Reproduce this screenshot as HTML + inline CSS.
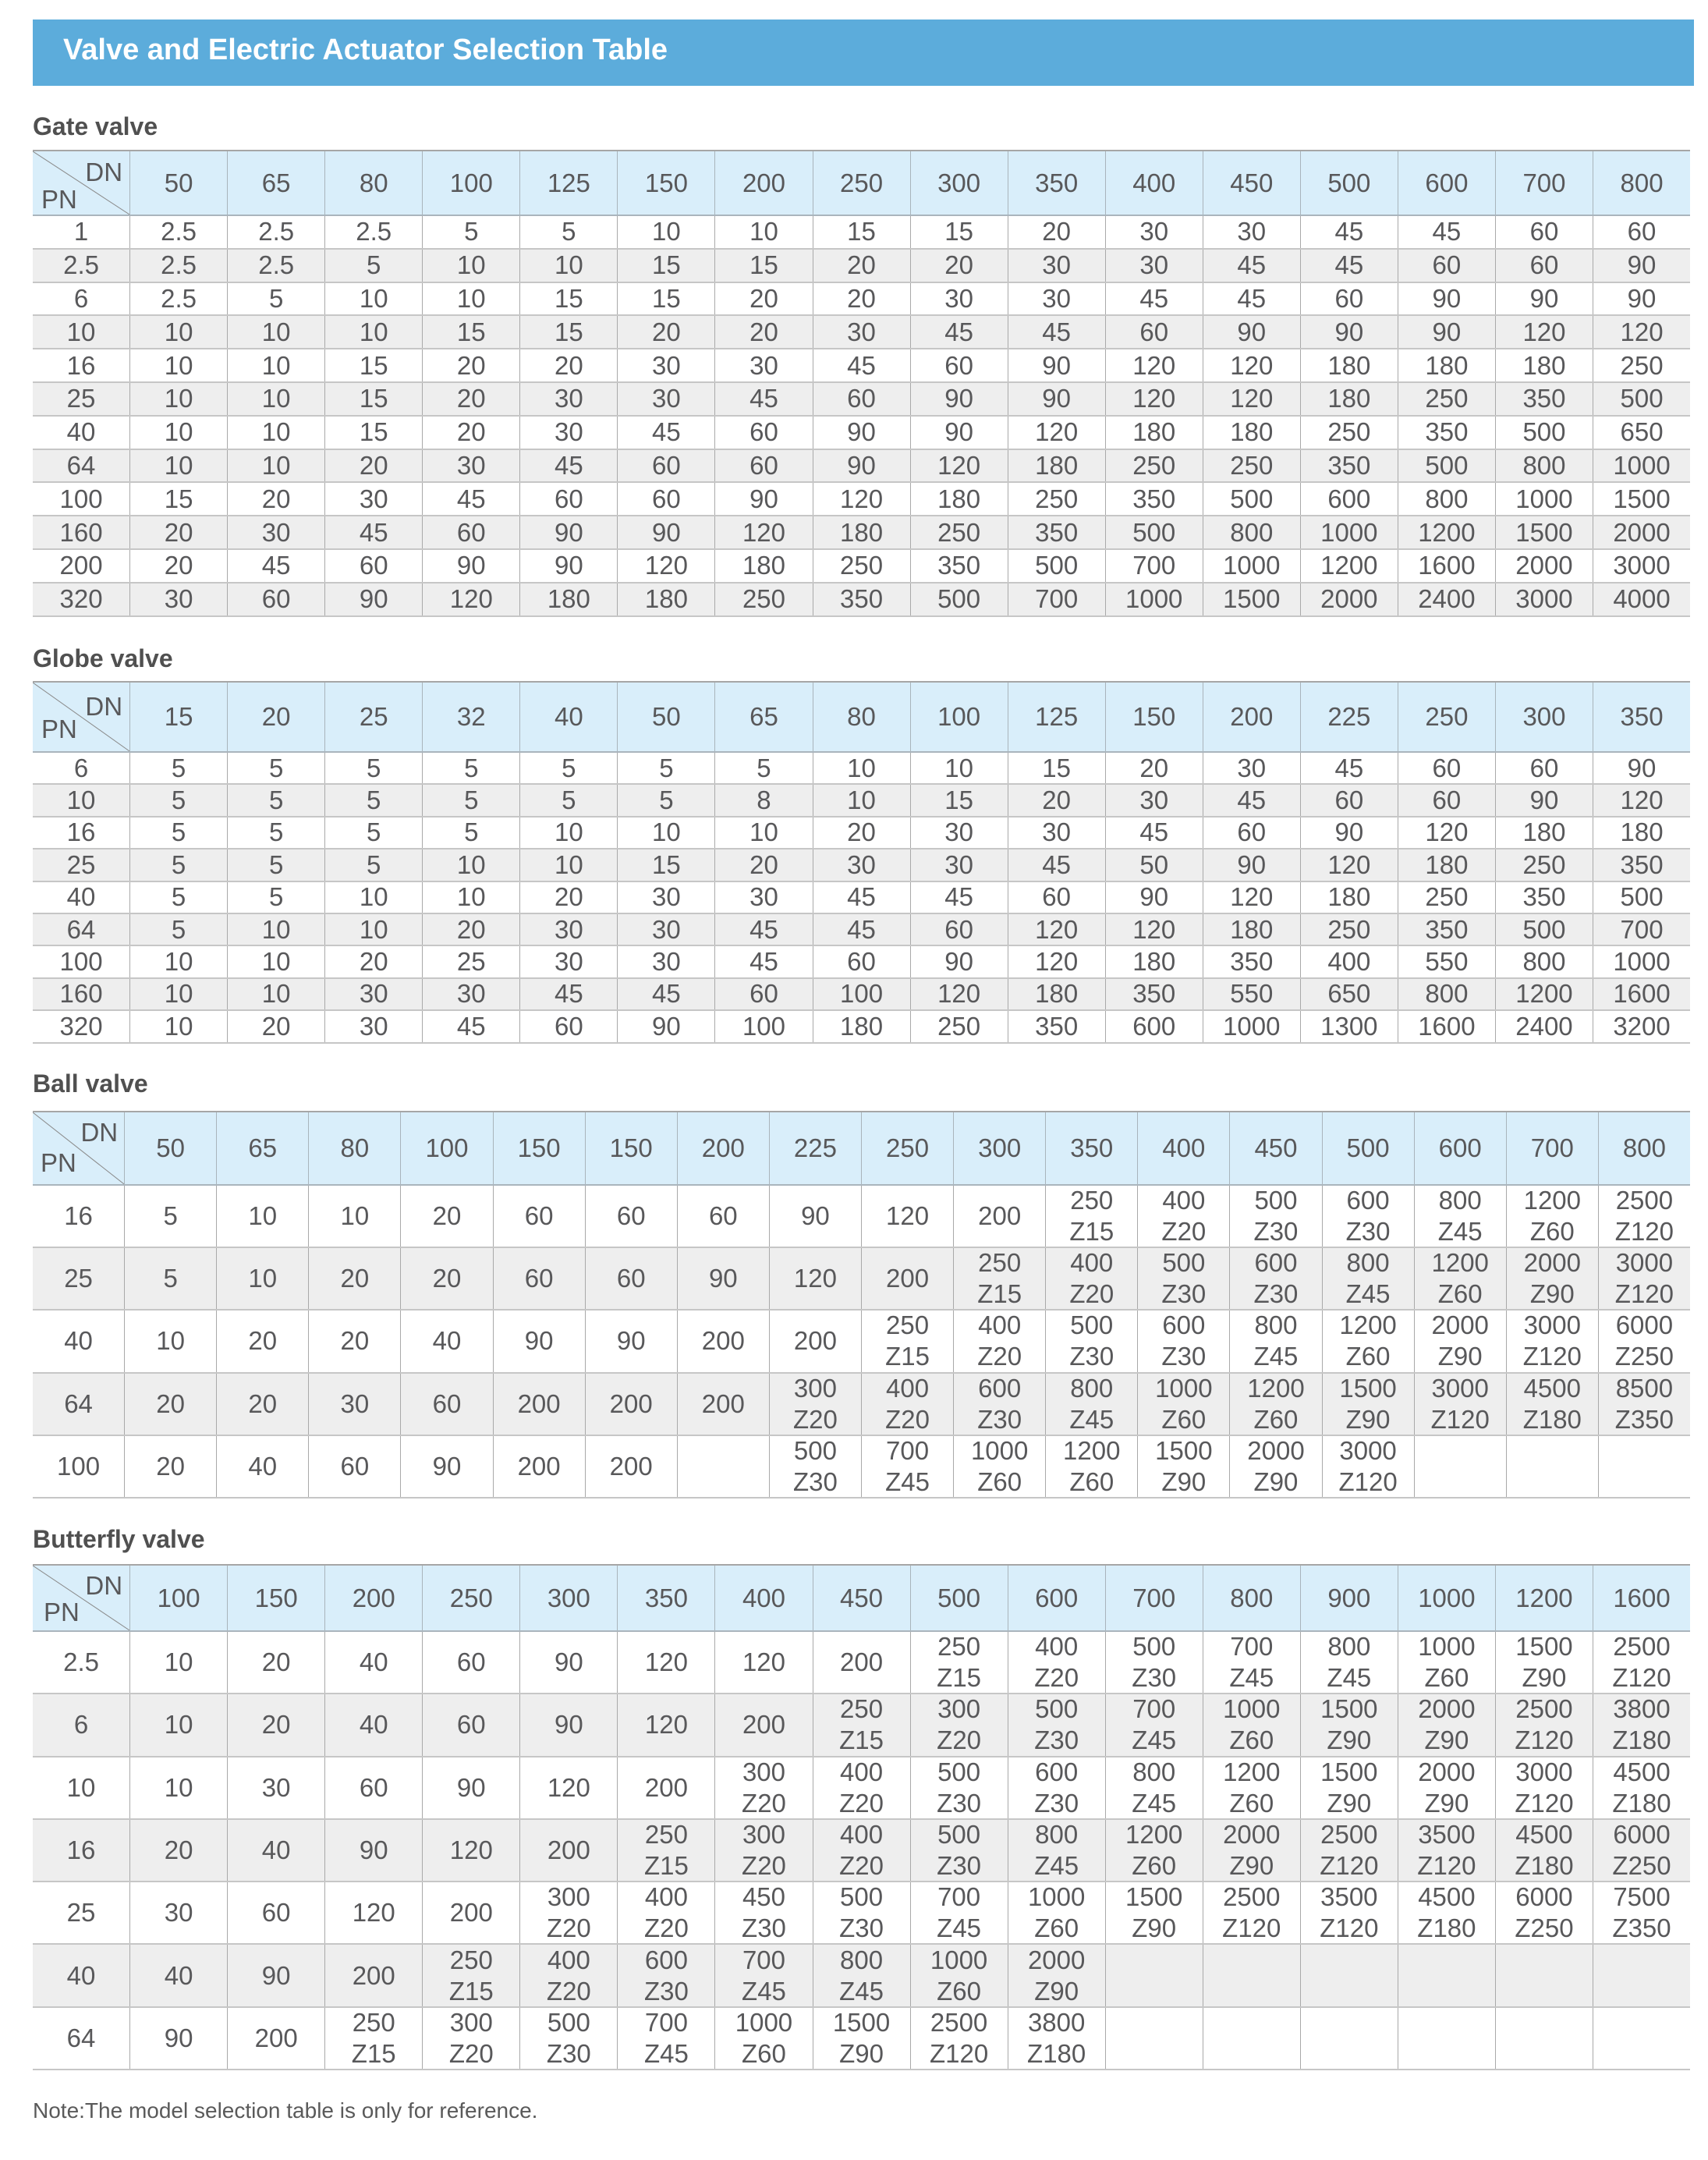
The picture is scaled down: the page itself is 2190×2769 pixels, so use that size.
<!DOCTYPE html>
<html><head><meta charset="utf-8">
<style>
html,body{margin:0;padding:0}
body{background:#fff;width:2190px;height:2769px;position:relative;overflow:hidden;font-family:"Liberation Sans",Arial,sans-serif;color:#58585a}
.ban{position:absolute;left:42px;top:25px;width:2130px;height:85px;background:#5cacdb}
.ttl{position:absolute;left:81px;top:45px;font-size:38px;line-height:38px;font-weight:bold;color:#fff;white-space:nowrap}
.hd{position:absolute;left:42px;font-size:32px;line-height:32px;font-weight:bold;color:#505050;white-space:nowrap}
.note{position:absolute;left:42px;top:2692px;font-size:28px;line-height:28px;color:#5a5a5a;white-space:nowrap}
.t{position:absolute;left:42px;width:2125px;border-top:2px solid #a6a6a6}
.r{display:flex;box-sizing:border-box;border-bottom:2px solid #c6c6c6}
.r.g{background:#eeeeee}
.r.h{background:#d9eefa;border-bottom-color:#aab5bd}
.r>div{flex:1 1 0;min-width:0;box-sizing:border-box;border-left:1px solid #a9a9a9;display:flex;align-items:center;justify-content:center;text-align:center;font-size:33px;line-height:40px;white-space:nowrap}
.r>div:first-child{border-left:none;position:relative}
.r.h>div{border-left-color:#a9b4bb}
.dg{position:absolute;left:0;top:0;width:100%;height:100%}
.dn,.pn{position:absolute;font-size:33px;line-height:33px}
.dn{right:9px}
.pn{left:11px}
</style></head><body>

<div class="ban"></div>
<div class="ttl">Valve and Electric Actuator Selection Table</div>

<!-- Gate valve -->
<div class="hd" style="top:146px">Gate valve</div>
<div class="t" style="top:192px">
<div class="r h" style="height:83px"><div><svg class="dg" viewBox="0 0 100 100" preserveAspectRatio="none"><line x1="0" y1="0" x2="100" y2="100" stroke="#8a8a8a" stroke-width="1" vector-effect="non-scaling-stroke"/></svg><span class="dn" style="top:10px">DN</span><span class="pn" style="top:45px">PN</span></div><div>50</div><div>65</div><div>80</div><div>100</div><div>125</div><div>150</div><div>200</div><div>250</div><div>300</div><div>350</div><div>400</div><div>450</div><div>500</div><div>600</div><div>700</div><div>800</div></div>
<div class="r" style="height:42.8px"><div>1</div><div>2.5</div><div>2.5</div><div>2.5</div><div>5</div><div>5</div><div>10</div><div>10</div><div>15</div><div>15</div><div>20</div><div>30</div><div>30</div><div>45</div><div>45</div><div>60</div><div>60</div></div>
<div class="r g" style="height:42.8px"><div>2.5</div><div>2.5</div><div>2.5</div><div>5</div><div>10</div><div>10</div><div>15</div><div>15</div><div>20</div><div>20</div><div>30</div><div>30</div><div>45</div><div>45</div><div>60</div><div>60</div><div>90</div></div>
<div class="r" style="height:42.8px"><div>6</div><div>2.5</div><div>5</div><div>10</div><div>10</div><div>15</div><div>15</div><div>20</div><div>20</div><div>30</div><div>30</div><div>45</div><div>45</div><div>60</div><div>90</div><div>90</div><div>90</div></div>
<div class="r g" style="height:42.8px"><div>10</div><div>10</div><div>10</div><div>10</div><div>15</div><div>15</div><div>20</div><div>20</div><div>30</div><div>45</div><div>45</div><div>60</div><div>90</div><div>90</div><div>90</div><div>120</div><div>120</div></div>
<div class="r" style="height:42.8px"><div>16</div><div>10</div><div>10</div><div>15</div><div>20</div><div>20</div><div>30</div><div>30</div><div>45</div><div>60</div><div>90</div><div>120</div><div>120</div><div>180</div><div>180</div><div>180</div><div>250</div></div>
<div class="r g" style="height:42.8px"><div>25</div><div>10</div><div>10</div><div>15</div><div>20</div><div>30</div><div>30</div><div>45</div><div>60</div><div>90</div><div>90</div><div>120</div><div>120</div><div>180</div><div>250</div><div>350</div><div>500</div></div>
<div class="r" style="height:42.8px"><div>40</div><div>10</div><div>10</div><div>15</div><div>20</div><div>30</div><div>45</div><div>60</div><div>90</div><div>90</div><div>120</div><div>180</div><div>180</div><div>250</div><div>350</div><div>500</div><div>650</div></div>
<div class="r g" style="height:42.8px"><div>64</div><div>10</div><div>10</div><div>20</div><div>30</div><div>45</div><div>60</div><div>60</div><div>90</div><div>120</div><div>180</div><div>250</div><div>250</div><div>350</div><div>500</div><div>800</div><div>1000</div></div>
<div class="r" style="height:42.8px"><div>100</div><div>15</div><div>20</div><div>30</div><div>45</div><div>60</div><div>60</div><div>90</div><div>120</div><div>180</div><div>250</div><div>350</div><div>500</div><div>600</div><div>800</div><div>1000</div><div>1500</div></div>
<div class="r g" style="height:42.8px"><div>160</div><div>20</div><div>30</div><div>45</div><div>60</div><div>90</div><div>90</div><div>120</div><div>180</div><div>250</div><div>350</div><div>500</div><div>800</div><div>1000</div><div>1200</div><div>1500</div><div>2000</div></div>
<div class="r" style="height:42.8px"><div>200</div><div>20</div><div>45</div><div>60</div><div>90</div><div>90</div><div>120</div><div>180</div><div>250</div><div>350</div><div>500</div><div>700</div><div>1000</div><div>1200</div><div>1600</div><div>2000</div><div>3000</div></div>
<div class="r g" style="height:42.8px"><div>320</div><div>30</div><div>60</div><div>90</div><div>120</div><div>180</div><div>180</div><div>250</div><div>350</div><div>500</div><div>700</div><div>1000</div><div>1500</div><div>2000</div><div>2400</div><div>3000</div><div>4000</div></div>
</div>

<!-- Globe valve -->
<div class="hd" style="top:828px">Globe valve</div>
<div class="t" style="top:873px">
<div class="r h" style="height:90px"><div><svg class="dg" viewBox="0 0 100 100" preserveAspectRatio="none"><line x1="0" y1="0" x2="100" y2="100" stroke="#8a8a8a" stroke-width="1" vector-effect="non-scaling-stroke"/></svg><span class="dn" style="top:14px">DN</span><span class="pn" style="top:43px">PN</span></div><div>15</div><div>20</div><div>25</div><div>32</div><div>40</div><div>50</div><div>65</div><div>80</div><div>100</div><div>125</div><div>150</div><div>200</div><div>225</div><div>250</div><div>300</div><div>350</div></div>
<div class="r" style="height:41.4px"><div>6</div><div>5</div><div>5</div><div>5</div><div>5</div><div>5</div><div>5</div><div>5</div><div>10</div><div>10</div><div>15</div><div>20</div><div>30</div><div>45</div><div>60</div><div>60</div><div>90</div></div>
<div class="r g" style="height:41.4px"><div>10</div><div>5</div><div>5</div><div>5</div><div>5</div><div>5</div><div>5</div><div>8</div><div>10</div><div>15</div><div>20</div><div>30</div><div>45</div><div>60</div><div>60</div><div>90</div><div>120</div></div>
<div class="r" style="height:41.4px"><div>16</div><div>5</div><div>5</div><div>5</div><div>5</div><div>10</div><div>10</div><div>10</div><div>20</div><div>30</div><div>30</div><div>45</div><div>60</div><div>90</div><div>120</div><div>180</div><div>180</div></div>
<div class="r g" style="height:41.4px"><div>25</div><div>5</div><div>5</div><div>5</div><div>10</div><div>10</div><div>15</div><div>20</div><div>30</div><div>30</div><div>45</div><div>50</div><div>90</div><div>120</div><div>180</div><div>250</div><div>350</div></div>
<div class="r" style="height:41.4px"><div>40</div><div>5</div><div>5</div><div>10</div><div>10</div><div>20</div><div>30</div><div>30</div><div>45</div><div>45</div><div>60</div><div>90</div><div>120</div><div>180</div><div>250</div><div>350</div><div>500</div></div>
<div class="r g" style="height:41.4px"><div>64</div><div>5</div><div>10</div><div>10</div><div>20</div><div>30</div><div>30</div><div>45</div><div>45</div><div>60</div><div>120</div><div>120</div><div>180</div><div>250</div><div>350</div><div>500</div><div>700</div></div>
<div class="r" style="height:41.4px"><div>100</div><div>10</div><div>10</div><div>20</div><div>25</div><div>30</div><div>30</div><div>45</div><div>60</div><div>90</div><div>120</div><div>180</div><div>350</div><div>400</div><div>550</div><div>800</div><div>1000</div></div>
<div class="r g" style="height:41.4px"><div>160</div><div>10</div><div>10</div><div>30</div><div>30</div><div>45</div><div>45</div><div>60</div><div>100</div><div>120</div><div>180</div><div>350</div><div>550</div><div>650</div><div>800</div><div>1200</div><div>1600</div></div>
<div class="r" style="height:41.4px"><div>320</div><div>10</div><div>20</div><div>30</div><div>45</div><div>60</div><div>90</div><div>100</div><div>180</div><div>250</div><div>350</div><div>600</div><div>1000</div><div>1300</div><div>1600</div><div>2400</div><div>3200</div></div>
</div>

<!-- Ball valve -->
<div class="hd" style="top:1373px">Ball valve</div>
<div class="t" style="top:1424px">
<div class="r h" style="height:94px"><div><svg class="dg" viewBox="0 0 100 100" preserveAspectRatio="none"><line x1="0" y1="0" x2="100" y2="100" stroke="#8a8a8a" stroke-width="1" vector-effect="non-scaling-stroke"/></svg><span class="dn" style="top:9px;right:8px">DN</span><span class="pn" style="top:48px;left:10px">PN</span></div><div>50</div><div>65</div><div>80</div><div>100</div><div>150</div><div>150</div><div>200</div><div>225</div><div>250</div><div>300</div><div>350</div><div>400</div><div>450</div><div>500</div><div>600</div><div>700</div><div>800</div></div>
<div class="r" style="height:80.2px"><div>16</div><div>5</div><div>10</div><div>10</div><div>20</div><div>60</div><div>60</div><div>60</div><div>90</div><div>120</div><div>200</div><div>250<br>Z15</div><div>400<br>Z20</div><div>500<br>Z30</div><div>600<br>Z30</div><div>800<br>Z45</div><div>1200<br>Z60</div><div>2500<br>Z120</div></div>
<div class="r g" style="height:80.2px"><div>25</div><div>5</div><div>10</div><div>20</div><div>20</div><div>60</div><div>60</div><div>90</div><div>120</div><div>200</div><div>250<br>Z15</div><div>400<br>Z20</div><div>500<br>Z30</div><div>600<br>Z30</div><div>800<br>Z45</div><div>1200<br>Z60</div><div>2000<br>Z90</div><div>3000<br>Z120</div></div>
<div class="r" style="height:80.2px"><div>40</div><div>10</div><div>20</div><div>20</div><div>40</div><div>90</div><div>90</div><div>200</div><div>200</div><div>250<br>Z15</div><div>400<br>Z20</div><div>500<br>Z30</div><div>600<br>Z30</div><div>800<br>Z45</div><div>1200<br>Z60</div><div>2000<br>Z90</div><div>3000<br>Z120</div><div>6000<br>Z250</div></div>
<div class="r g" style="height:80.2px"><div>64</div><div>20</div><div>20</div><div>30</div><div>60</div><div>200</div><div>200</div><div>200</div><div>300<br>Z20</div><div>400<br>Z20</div><div>600<br>Z30</div><div>800<br>Z45</div><div>1000<br>Z60</div><div>1200<br>Z60</div><div>1500<br>Z90</div><div>3000<br>Z120</div><div>4500<br>Z180</div><div>8500<br>Z350</div></div>
<div class="r" style="height:80.2px"><div>100</div><div>20</div><div>40</div><div>60</div><div>90</div><div>200</div><div>200</div><div></div><div>500<br>Z30</div><div>700<br>Z45</div><div>1000<br>Z60</div><div>1200<br>Z60</div><div>1500<br>Z90</div><div>2000<br>Z90</div><div>3000<br>Z120</div><div></div><div></div><div></div></div>
</div>

<!-- Butterfly valve -->
<div class="hd" style="top:1957px">Butterfly valve</div>
<div class="t" style="top:2005px">
<div class="r h" style="height:85px"><div><svg class="dg" viewBox="0 0 100 100" preserveAspectRatio="none"><line x1="0" y1="0" x2="100" y2="100" stroke="#8a8a8a" stroke-width="1" vector-effect="non-scaling-stroke"/></svg><span class="dn" style="top:9px">DN</span><span class="pn" style="top:43px;left:14px">PN</span></div><div>100</div><div>150</div><div>200</div><div>250</div><div>300</div><div>350</div><div>400</div><div>450</div><div>500</div><div>600</div><div>700</div><div>800</div><div>900</div><div>1000</div><div>1200</div><div>1600</div></div>
<div class="r" style="height:80.3px"><div>2.5</div><div>10</div><div>20</div><div>40</div><div>60</div><div>90</div><div>120</div><div>120</div><div>200</div><div>250<br>Z15</div><div>400<br>Z20</div><div>500<br>Z30</div><div>700<br>Z45</div><div>800<br>Z45</div><div>1000<br>Z60</div><div>1500<br>Z90</div><div>2500<br>Z120</div></div>
<div class="r g" style="height:80.3px"><div>6</div><div>10</div><div>20</div><div>40</div><div>60</div><div>90</div><div>120</div><div>200</div><div>250<br>Z15</div><div>300<br>Z20</div><div>500<br>Z30</div><div>700<br>Z45</div><div>1000<br>Z60</div><div>1500<br>Z90</div><div>2000<br>Z90</div><div>2500<br>Z120</div><div>3800<br>Z180</div></div>
<div class="r" style="height:80.3px"><div>10</div><div>10</div><div>30</div><div>60</div><div>90</div><div>120</div><div>200</div><div>300<br>Z20</div><div>400<br>Z20</div><div>500<br>Z30</div><div>600<br>Z30</div><div>800<br>Z45</div><div>1200<br>Z60</div><div>1500<br>Z90</div><div>2000<br>Z90</div><div>3000<br>Z120</div><div>4500<br>Z180</div></div>
<div class="r g" style="height:80.3px"><div>16</div><div>20</div><div>40</div><div>90</div><div>120</div><div>200</div><div>250<br>Z15</div><div>300<br>Z20</div><div>400<br>Z20</div><div>500<br>Z30</div><div>800<br>Z45</div><div>1200<br>Z60</div><div>2000<br>Z90</div><div>2500<br>Z120</div><div>3500<br>Z120</div><div>4500<br>Z180</div><div>6000<br>Z250</div></div>
<div class="r" style="height:80.3px"><div>25</div><div>30</div><div>60</div><div>120</div><div>200</div><div>300<br>Z20</div><div>400<br>Z20</div><div>450<br>Z30</div><div>500<br>Z30</div><div>700<br>Z45</div><div>1000<br>Z60</div><div>1500<br>Z90</div><div>2500<br>Z120</div><div>3500<br>Z120</div><div>4500<br>Z180</div><div>6000<br>Z250</div><div>7500<br>Z350</div></div>
<div class="r g" style="height:80.3px"><div>40</div><div>40</div><div>90</div><div>200</div><div>250<br>Z15</div><div>400<br>Z20</div><div>600<br>Z30</div><div>700<br>Z45</div><div>800<br>Z45</div><div>1000<br>Z60</div><div>2000<br>Z90</div><div></div><div></div><div></div><div></div><div></div><div></div></div>
<div class="r" style="height:80.3px"><div>64</div><div>90</div><div>200</div><div>250<br>Z15</div><div>300<br>Z20</div><div>500<br>Z30</div><div>700<br>Z45</div><div>1000<br>Z60</div><div>1500<br>Z90</div><div>2500<br>Z120</div><div>3800<br>Z180</div><div></div><div></div><div></div><div></div><div></div><div></div></div>
</div>

<div class="note">Note:The model selection table is only for reference.</div>

</body></html>
